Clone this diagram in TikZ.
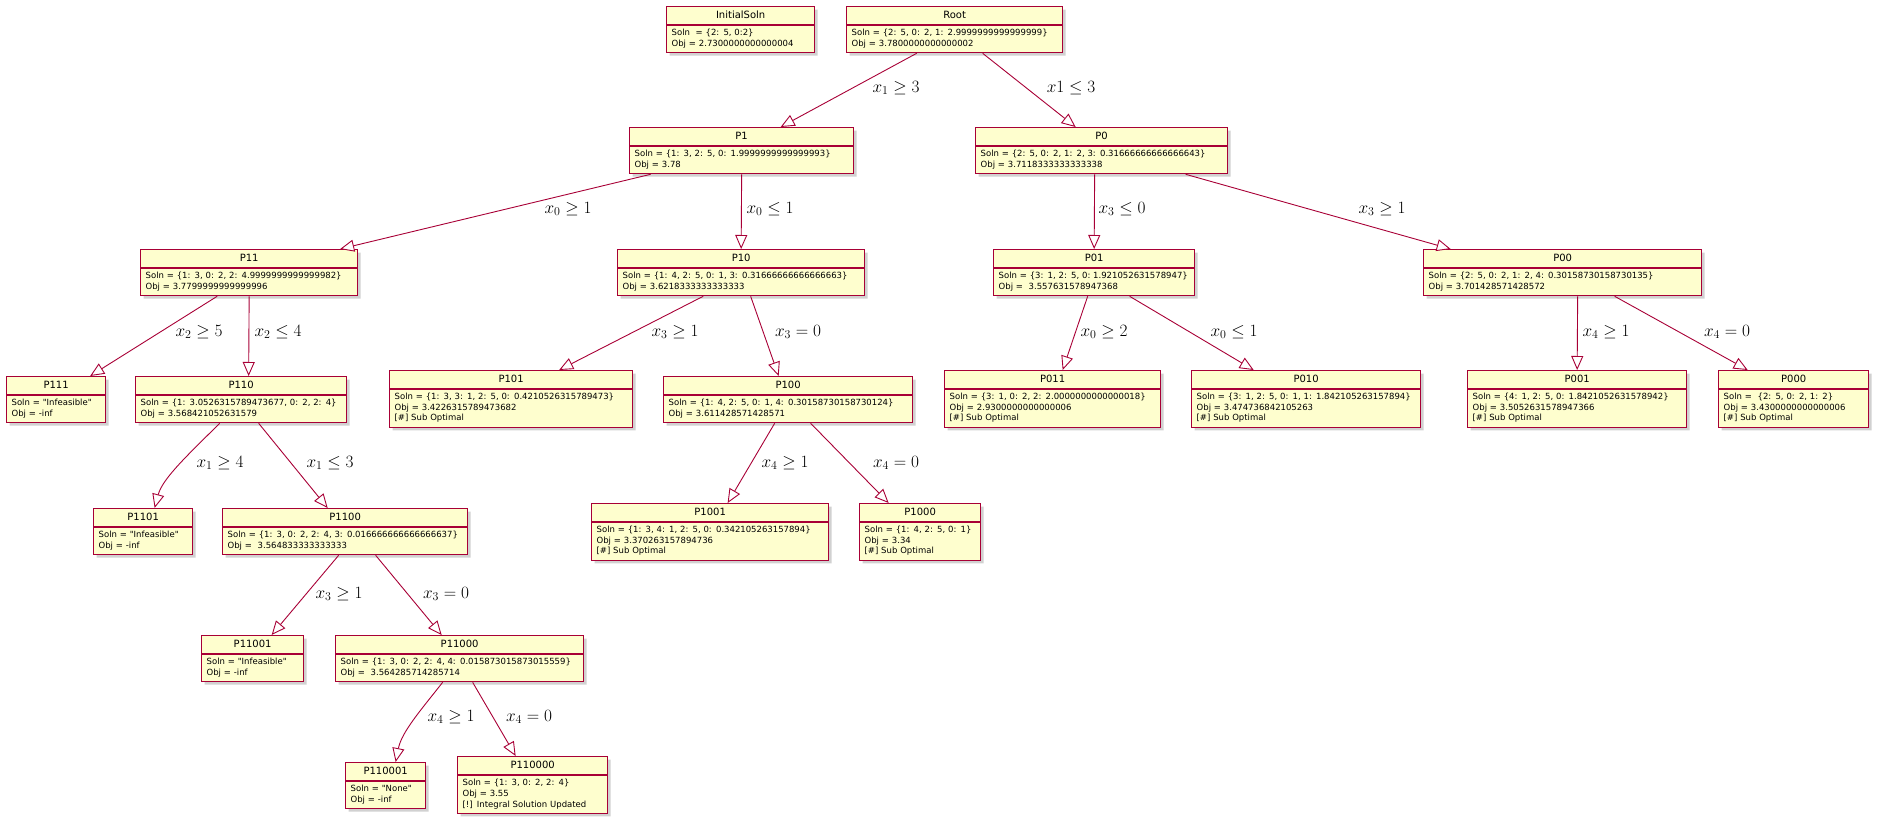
\documentclass[tikz,border=0pt]{standalone}
\usepackage{fontspec}
\usepackage{amssymb,amsmath}
\usepackage{tikz}
\usetikzlibrary{arrows.meta,shapes.multipart,shadows,positioning}
\newfontfamily\umlfont{DejaVu Sans}
\definecolor{umlred}{HTML}{A80036}
\definecolor{umlyellow}{HTML}{FEFECE}
\newcommand{\hd}[1]{\fontsize{10}{12}\selectfont\strut\hfill #1\hfill\null}
\newcommand{\bd}[1]{\strut #1\strut}

\begin{document}
\begin{tikzpicture}[x=1pt,y=-1pt,
  obj/.style={rectangle split, rectangle split parts=2, draw=umlred, line width=1.3pt,
    fill=umlyellow, inner xsep=5pt, inner ysep=2.5pt, anchor=north west, align=left,
    font=\umlfont\fontsize{8.5}{10.7}\selectfont,
    drop shadow={shadow xshift=3pt, shadow yshift=-3pt, opacity=0.3, fill=black!60}},
  edge/.style={draw=umlred, line width=0.9pt, line join=miter,
    -{Triangle[length=14pt,width=12pt,fill=white]}},
  lbl/.style={font=\fontsize{17.28}{20}\selectfont, inner sep=0pt}]
\useasboundingbox (0,0) rectangle (1884,827);

% level 0
\node[obj, text width=138pt] (initsoln) at (666,6) {\hd{InitialSoln}
  \nodepart{two}\bd{Soln \ = \{2: 5, 0:2\}\\ Obj = 2.7300000000000004}};
\node[obj, text width=206pt] (root) at (846,6) {\hd{Root}
  \nodepart{two}\bd{Soln = \{2: 5, 0: 2, 1: 2.9999999999999999\}\\ Obj = 3.7800000000000002}};

% level 1
\node[obj, text width=214pt] (p1) at (629,127) {\hd{P1}
  \nodepart{two}\bd{Soln = \{1: 3, 2: 5, 0: 1.9999999999999993\}\\ Obj = 3.78}};
\node[obj, text width=242pt] (p0) at (975,127) {\hd{P0}
  \nodepart{two}\bd{Soln = \{2: 5, 0: 2, 1: 2, 3: 0.31666666666666643\}\\ Obj = 3.7118333333333338}};

% level 2
\node[obj, text width=207pt] (p11) at (140,249) {\hd{P11}
  \nodepart{two}\bd{Soln = \{1: 3, 0: 2, 2: 4.9999999999999982\}\\ Obj = 3.7799999999999996}};
\node[obj, text width=237pt] (p10) at (617,249) {\hd{P10}
  \nodepart{two}\bd{Soln = \{1: 4, 2: 5, 0: 1, 3: 0.31666666666666663\}\\ Obj = 3.6218333333333333}};
\node[obj, text width=191pt] (p01) at (993,249) {\hd{P01}
  \nodepart{two}\bd{Soln =~\{3: 1, 2: 5, 0:~1.921052631578947\}\\ Obj = \ 3.557631578947368}};
\node[obj, text width=268pt] (p00) at (1423,249) {\hd{P00}
  \nodepart{two}\bd{Soln = \{2: 5, 0: 2, 1: 2, 4: 0.30158730158730135\}\\ Obj = 3.701428571428572}};

% level 3
\node[obj, text width=89pt] (p111) at (6,376) {\hd{P111}
  \nodepart{two}\bd{Soln = "Infeasible"\\ Obj = -inf}};
\node[obj, text width=201pt] (p110) at (135,376) {\hd{P110}
  \nodepart{two}\bd{Soln = \{1: 3.0526315789473677, 0: 2, 2: 4\}\\ Obj = 3.568421052631579}};
\node[obj, text width=233pt] (p101) at (389,370) {\hd{P101}
  \nodepart{two}\bd{Soln = \{1: 3, 3: 1, 2: 5, 0: 0.4210526315789473\}\\ Obj = 3.4226315789473682\\{}[\#] Sub Optimal}};
\node[obj, text width=239pt] (p100) at (663,376) {\hd{P100}
  \nodepart{two}\bd{Soln = \{1: 4, 2: 5, 0: 1, 4: 0.30158730158730124\}\\ Obj = 3.611428571428571}};
\node[obj, text width=206pt] (p011) at (944,370) {\hd{P011}
  \nodepart{two}\bd{Soln = \{3: 1, 0: 2, 2: 2.0000000000000018\}\\ Obj = 2.9300000000000006\\{}[\#] Sub Optimal}};
\node[obj, text width=219pt] (p010) at (1191,370) {\hd{P010}
  \nodepart{two}\bd{Soln = \{3: 1, 2: 5, 0: 1, 1: 1.842105263157894\}\\ Obj = 3.474736842105263\\{}[\#] Sub Optimal}};
\node[obj, text width=209pt] (p001) at (1467,370) {\hd{P001}
  \nodepart{two}\bd{Soln = \{4: 1, 2: 5, 0: 1.8421052631578942\}\\ Obj = 3.5052631578947366\\{}[\#] Sub Optimal}};
\node[obj, text width=140pt] (p000) at (1718,370) {\hd{P000}
  \nodepart{two}\bd{Soln = \ \{2: 5, 0: 2, 1: 2\}\\ Obj = 3.4300000000000006\\{}[\#] Sub Optimal}};

% level 4
\node[obj, text width=89pt] (p1101) at (93,508) {\hd{P1101}
  \nodepart{two}\bd{Soln = "Infeasible"\\ Obj = -inf}};
\node[obj, text width=235pt] (p1100) at (222,508) {\hd{P1100}
  \nodepart{two}\bd{Soln = \{1: 3, 0: 2, 2: 4, 3: 0.016666666666666637\}\\ Obj = \ 3.564833333333333}};
\node[obj, text width=227pt] (p1001) at (591,503) {\hd{P1001}
  \nodepart{two}\bd{Soln = \{1: 3, 4: 1, 2: 5, 0: 0.342105263157894\}\\ Obj = 3.370263157894736\\{}[\#] Sub Optimal}};
\node[obj, text width=111pt] (p1000) at (859,503) {\hd{P1000}
  \nodepart{two}\bd{Soln = \{1: 4, 2: 5, 0: 1\}\\ Obj = 3.34\\{}[\#] Sub Optimal}};

% level 5
\node[obj, text width=92pt] (p11001) at (201,635) {\hd{P11001}
  \nodepart{two}\bd{Soln = "Infeasible"\\ Obj = -inf}};
\node[obj, text width=238pt] (p11000) at (335,635) {\hd{P11000}
  \nodepart{two}\bd{Soln = \{1: 3, 0: 2, 2: 4, 4: 0.015873015873015559\}\\ Obj = \ 3.564285714285714}};

% level 6
\node[obj, text width=70pt] (p110001) at (345,762) {\hd{P110001}
  \nodepart{two}\bd{Soln = "None"\\ Obj = -inf}};
\node[obj, text width=140pt] (p110000) at (457,756) {\hd{P110000}
  \nodepart{two}\bd{Soln = \{1: 3, 0: 2, 2: 4\}\\ Obj = 3.55\\{}[!] Integral Solution Updated}};

% branches
\draw[edge] ([xshift=-38pt]root.south) -- ([xshift=39pt]p1.north);
\draw[edge] ([xshift=28pt]root.south) -- ([xshift=-26pt]p0.north);
\draw[edge] ([xshift=-91pt]p1.south) -- ([xshift=91pt]p11.north);
\draw[edge] (p1.south) -- (p10.north);
\draw[edge] ([xshift=-7pt]p0.south) -- (p01.north);
\draw[edge] ([xshift=84pt]p0.south) -- ([xshift=-112pt]p00.north);
\draw[edge] ([xshift=-32pt]p11.south) -- ([xshift=34pt]p111.north);
\draw[edge] (p11.south) -- ([xshift=7.5pt]p110.north);
\draw[edge] ([xshift=-38pt]p10.south) -- ([xshift=48pt]p101.north);
\draw[edge] ([xshift=9.5pt]p10.south) -- ([xshift=-9.5pt]p100.north);
\draw[edge] ([xshift=-6.5pt]p01.south) -- ([xshift=10pt]p011.north);
\draw[edge] ([xshift=35.5pt]p01.south) -- ([xshift=-52.5pt]p010.north);
\draw[edge] ([xshift=15pt]p00.south) -- (p001.north);
\draw[edge] ([xshift=52pt]p00.south) -- ([xshift=-46pt]p000.north);
\draw[edge] ([xshift=-21.5pt]p110.south) .. controls +(-30,30) and +(8,-30) .. ([xshift=11.5pt]p1101.north);
\draw[edge] ([xshift=17.5pt]p110.south) -- ([xshift=-17.5pt]p1100.north);
\draw[edge] ([xshift=-13.5pt]p100.south) -- ([xshift=17.5pt]p1001.north);
\draw[edge] ([xshift=22.5pt]p100.south) -- ([xshift=-31.5pt]p1000.north);
\draw[edge] ([xshift=-6.5pt]p1100.south) -- ([xshift=19pt]p11001.north);
\draw[edge] ([xshift=30.5pt]p1100.south) -- ([xshift=-18pt]p11000.north);
\draw[edge] ([xshift=-17pt]p11000.south) .. controls +(-22,28) and +(6,-30) .. ([xshift=10pt]p110001.north);
\draw[edge] ([xshift=13pt]p11000.south) -- ([xshift=-17pt]p110000.north);

% branch labels
\node[lbl] (l-root-p1) at (896,88) {$x_1 \geq 3$};
\node[lbl] (l-root-p0) at (1071,88) {$x1 \leq 3$};
\node[lbl] (l-p1-p11) at (568,209) {$x_0 \geq 1$};
\node[lbl] (l-p1-p10) at (770,209) {$x_0 \leq 1$};
\node[lbl] (l-p0-p01) at (1122,209) {$x_3 \leq 0$};
\node[lbl] (l-p0-p00) at (1382,209) {$x_3 \geq 1$};
\node[lbl] (l-p11-p111) at (199,332) {$x_2 \geq 5$};
\node[lbl] (l-p11-p110) at (278,332) {$x_2 \leq 4$};
\node[lbl] (l-p10-p101) at (675,332) {$x_3 \geq 1$};
\node[lbl] (l-p10-p100) at (798,332) {$x_3 = 0$};
\node[lbl] (l-p01-p011) at (1104,332) {$x_0 \geq 2$};
\node[lbl] (l-p01-p010) at (1234,332) {$x_0 \leq 1$};
\node[lbl] (l-p00-p001) at (1606,332) {$x_4 \geq 1$};
\node[lbl] (l-p00-p000) at (1727,332) {$x_4 = 0$};
\node[lbl] (l-p110-p1101) at (220,463) {$x_1 \geq 4$};
\node[lbl] (l-p110-p1100) at (330,463) {$x_1 \leq 3$};
\node[lbl] (l-p100-p1001) at (785,463) {$x_4 \geq 1$};
\node[lbl] (l-p100-p1000) at (896,463) {$x_4 = 0$};
\node[lbl] (l-p1100-p11001) at (339,594) {$x_3 \geq 1$};
\node[lbl] (l-p1100-p11000) at (446,594) {$x_3 = 0$};
\node[lbl] (l-p11000-p110001) at (451,717) {$x_4 \geq 1$};
\node[lbl] (l-p11000-p110000) at (529,717) {$x_4 = 0$};

\end{tikzpicture}
\end{document}
